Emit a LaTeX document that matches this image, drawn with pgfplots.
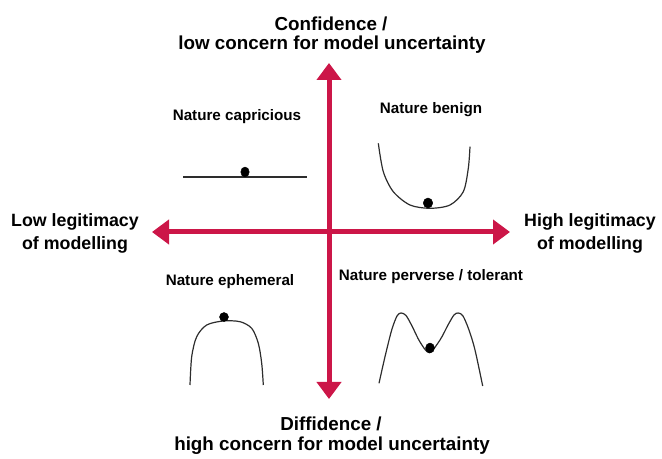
\documentclass[border=0pt]{standalone}
\usepackage{pgfplots}
\pgfplotsset{compat=1.18}
\usetikzlibrary{arrows.meta}
\usepackage{fontspec}
\setmainfont{Liberation Sans}
\definecolor{crim}{RGB}{204,22,72}
\definecolor{curve}{RGB}{45,45,45}
\begin{document}
\begin{tikzpicture}
\begin{axis}[
  scale only axis, width=662pt, height=455pt,
  xmin=0, xmax=662, ymin=0, ymax=455, y dir=reverse,
  hide axis, clip=false,
]
\path (axis cs:0,0) rectangle (axis cs:662,455);
% arrows
\addplot[crim, line width=5pt, {Triangle[length=17pt,width=24pt]}-{Triangle[length=17pt,width=24pt]}] coordinates {(329,63) (329,399)};
\addplot[crim, line width=5pt, {Triangle[length=17pt,width=24pt]}-{Triangle[length=17pt,width=24pt]}] coordinates {(152,232) (510,232)};
% capricious
\addplot[curve, line width=1.2pt] coordinates {(183,177) (307,177)};
\addplot[only marks, mark=*, black, mark size=5pt, mark options={xscale=0.85}] coordinates {(245,172)};
% benign
\addplot[curve, line width=1.2pt, smooth] coordinates {(378.3,143.3) (383.3,171.7) (393.3,191.7) (410,205) (430,208.3) (450,205) (463.3,191.7) (468.3,168.3) (470,146.7)};
\addplot[only marks, mark=*, black, mark size=5pt, mark options={xscale=0.95}] coordinates {(428,203)};
% ephemeral
\addplot[curve, line width=1.2pt, smooth] coordinates {(190,385) (191.7,356.7) (196.7,336.7) (206.7,325) (223.3,321) (240,321.7) (251.7,328.3) (258.3,343.3) (261.7,363.3) (263.3,385)};
\addplot[only marks, mark=*, black, mark size=4.5pt] coordinates {(224,317)};
% perverse / tolerant
\addplot[curve, line width=1.2pt, smooth] coordinates {(379,383.3) (385,356.7) (391.7,330) (397,316) (401,313) (406,315.5) (412,326) (420,342) (429.3,352.7) (440,340) (448,325) (454,315) (458.3,313) (463,316) (469,330) (475,350) (482.7,386)};
\addplot[only marks, mark=*, black, mark size=5pt, mark options={xscale=0.9}] coordinates {(430,348)};
% labels
\tikzset{big/.style={font=\fontsize{18.8}{21}\selectfont\bfseries}, mid/.style={font=\fontsize{17.8}{20}\selectfont\bfseries}, small/.style={font=\fontsize{15.2}{17}\selectfont\bfseries}}
\node[big] at (axis cs:331,24) {Confidence /};
\node[big] at (axis cs:332,45) {low concern for model uncertainty};
\node[big] at (axis cs:331,424) {Diffidence /};
\node[big] at (axis cs:332,446) {high concern for model uncertainty};
\node[mid] at (axis cs:75,222) {Low legitimacy};
\node[mid] at (axis cs:75,245) {of modelling};
\node[mid] at (axis cs:590,222) {High legitimacy};
\node[mid] at (axis cs:590,245) {of modelling};
\node[small] at (axis cs:237,117) {Nature capricious};
\node[small] at (axis cs:431,110) {Nature benign};
\node[small] at (axis cs:230,282) {Nature ephemeral};
\node[small] at (axis cs:431,277) {Nature perverse / tolerant};
\end{axis}
\end{tikzpicture}
\end{document}
